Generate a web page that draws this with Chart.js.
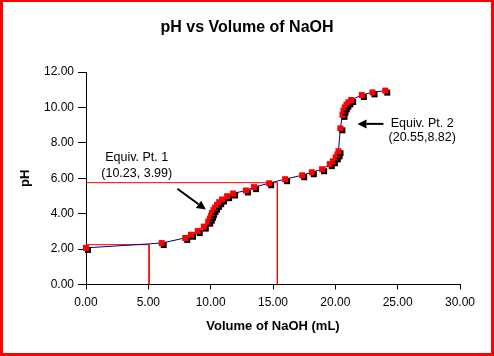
<!DOCTYPE html>
<html><head><meta charset="utf-8">
<script src="https://cdn.jsdelivr.net/npm/chart.js@4/dist/chart.umd.min.js"></script>
<style>html,body{margin:0;padding:0;background:#fff;}canvas{display:block;}</style>
</head><body>
<canvas id="c" width="494" height="356"></canvas>
<script>
// ---- data ----
const volumeNaOH = [0, 6.07, 7.96, 8.42, 8.96, 9.45, 9.8, 9.93, 10.03, 10.1, 10.22, 10.35, 10.5, 10.68, 10.9, 11.32, 11.8, 12.82, 13.48, 14.69, 15.97, 17.34, 18.11, 18.94, 19.55, 19.8, 20.03, 20.17, 20.25, 20.4, 20.57, 20.65, 20.76, 20.89, 21.05, 21.27, 22.12, 22.98, 24.0];
const pHValues   = [2.07, 2.34, 2.63, 2.81, 3.02, 3.27, 3.55, 3.72, 3.88, 4.04, 4.2, 4.34, 4.5, 4.65, 4.8, 4.99, 5.14, 5.31, 5.5, 5.72, 5.95, 6.17, 6.34, 6.51, 6.8, 6.96, 7.18, 7.35, 7.53, 8.82, 9.58, 9.82, 10.0, 10.16, 10.29, 10.42, 10.7, 10.85, 10.95];
const halfEq1Vol = [0, 5.06, 5.06];
const halfEq1PH  = [2.25, 2.25, 0];
const halfEq2Vol = [0, 15.35, 15.35];
const halfEq2PH  = [5.75, 5.75, 0];
const xRange = [0, 30];
const yRange = [0, 12];
const chartTitle = 'pH vs Volume of NaOH';
const xTitle = 'Volume of NaOH (mL)';
const yTitle = 'pH';
const label1Lines = ['Equiv. Pt. 1', '(10.23, 3.99)'];
const label2Lines = ['Equiv. Pt. 2', '(20.55,8.82)'];

// annotation placement (data units)
const annot = [
  {lines: label1Lines, at: [4.07, 7.19], dy: -0.94, arrowFrom: [7.33, 5.41], arrowTo: [9.61, 4.23]},
  {lines: label2Lines, at: [26.97, 9.1], dy: -0.79, arrowFrom: [23.86, 9.07], arrowTo: [21.78, 9.07]}
];

const FONT = '"Liberation Sans", Arial, sans-serif';

function toPts(xs, ys){ return xs.map((x,i)=>({x:x, y:ys[i]})); }

// marker: red square with black drop shadow
const marker = document.createElement('canvas');
marker.width = 12; marker.height = 12;
(function(){
  const m = marker.getContext('2d');
  m.fillStyle = '#000'; m.fillRect(5,5,6,6);
  m.fillStyle = '#ff0000'; m.fillRect(3,3,6,6);
})();

const framePlugin = {
  id: 'frame',
  afterDraw(chart){
    const ctx = chart.ctx, W = chart.width, H = chart.height;
    ctx.save();
    ctx.fillStyle = '#ff0000';
    ctx.fillRect(0,0,W,2);
    ctx.fillRect(0,H-3,W,3);
    ctx.fillRect(0,0,3,H);
    ctx.fillRect(W-3,0,3,H);
    ctx.restore();
  }
};

const annotPlugin = {
  id: 'annot',
  afterDatasetsDraw(chart){
    const ctx = chart.ctx, xs = chart.scales.x, ys = chart.scales.y;
    ctx.save();
    ctx.fillStyle = '#000'; ctx.strokeStyle = '#000';
    ctx.font = '12.5px ' + FONT;
    ctx.textAlign = 'center'; ctx.textBaseline = 'middle';
    annot.forEach(a => {
      a.lines.forEach((t,i) => {
        ctx.fillText(t, xs.getPixelForValue(a.at[0]), ys.getPixelForValue(a.at[1] + i*a.dy));
      });
      const x1 = xs.getPixelForValue(a.arrowFrom[0]), y1 = ys.getPixelForValue(a.arrowFrom[1]);
      const x2 = xs.getPixelForValue(a.arrowTo[0]), y2 = ys.getPixelForValue(a.arrowTo[1]);
      const ang = Math.atan2(y2-y1, x2-x1);
      const hl = 9, hw = 4.5;
      const bx = x2 - hl*Math.cos(ang), by = y2 - hl*Math.sin(ang);
      ctx.lineWidth = 2;
      ctx.beginPath(); ctx.moveTo(x1,y1); ctx.lineTo(bx,by); ctx.stroke();
      ctx.beginPath();
      ctx.moveTo(x2,y2);
      ctx.lineTo(bx + hw*Math.sin(ang), by - hw*Math.cos(ang));
      ctx.lineTo(bx - hw*Math.sin(ang), by + hw*Math.cos(ang));
      ctx.closePath(); ctx.fill();
    });
    ctx.restore();
  }
};

new Chart(document.getElementById('c'), {
  type: 'scatter',
  data: {
    datasets: [
      {data: toPts(volumeNaOH, pHValues), showLine: true, borderColor: '#000080', borderWidth: 1,
       pointStyle: marker, pointRadius: 4, tension: 0, clip: false},
      {data: toPts(halfEq1Vol, halfEq1PH), showLine: true, borderColor: '#ff0000', borderWidth: 1, pointRadius: 0, tension: 0},
      {data: toPts(halfEq2Vol, halfEq2PH), showLine: true, borderColor: '#ff0000', borderWidth: 1, pointRadius: 0, tension: 0}
    ]
  },
  options: {
    responsive: false, animation: false, events: [],
    layout: {padding: {left: 3, right: 3, top: 3, bottom: 3}},
    plugins: {
      legend: {display: false}, tooltip: {enabled: false},
      title: {display: true, text: chartTitle, color: '#000', font: {family: FONT, size: 16, weight: 'bold'},
              padding: {top: 15, bottom: 34.8}}
    },
    scales: {
      x: {type: 'linear', min: xRange[0], max: xRange[1],
          grid: {display: true, drawOnChartArea: false, drawTicks: true, tickLength: 5, color: '#000'},
          border: {display: true, color: '#000', width: 1},
          ticks: {stepSize: 5, color: '#000', padding: 6, maxRotation: 0, font: {family: FONT, size: 12},
                  callback: v => Number(v).toFixed(2)},
          title: {display: true, text: xTitle, color: '#000', font: {family: FONT, size: 13, weight: 'bold'},
                  padding: {top: 0, bottom: 18.7}},
          afterFit: s => { s.height = 68.5; }},
      y: {type: 'linear', min: yRange[0], max: yRange[1], position: 'left',
          grid: {display: true, drawOnChartArea: false, drawTicks: true, tickLength: 8, color: '#000'},
          border: {display: true, color: '#000', width: 1},
          ticks: {stepSize: 2, color: '#000', padding: 4, font: {family: FONT, size: 12},
                  callback: v => Number(v).toFixed(2)},
          title: {display: true, text: yTitle, color: '#000', font: {family: FONT, size: 13, weight: 'bold'},
                  padding: {top: 14.2, bottom: 0}},
          afterFit: s => { s.width = 83; }},
      yRight: {type: 'linear', position: 'right', display: true,
          grid: {display: false}, border: {display: false}, ticks: {display: false}, title: {display: false},
          afterFit: s => { s.width = 31; }}
    }
  },
  plugins: [framePlugin, annotPlugin]
});
</script>
</body></html>
